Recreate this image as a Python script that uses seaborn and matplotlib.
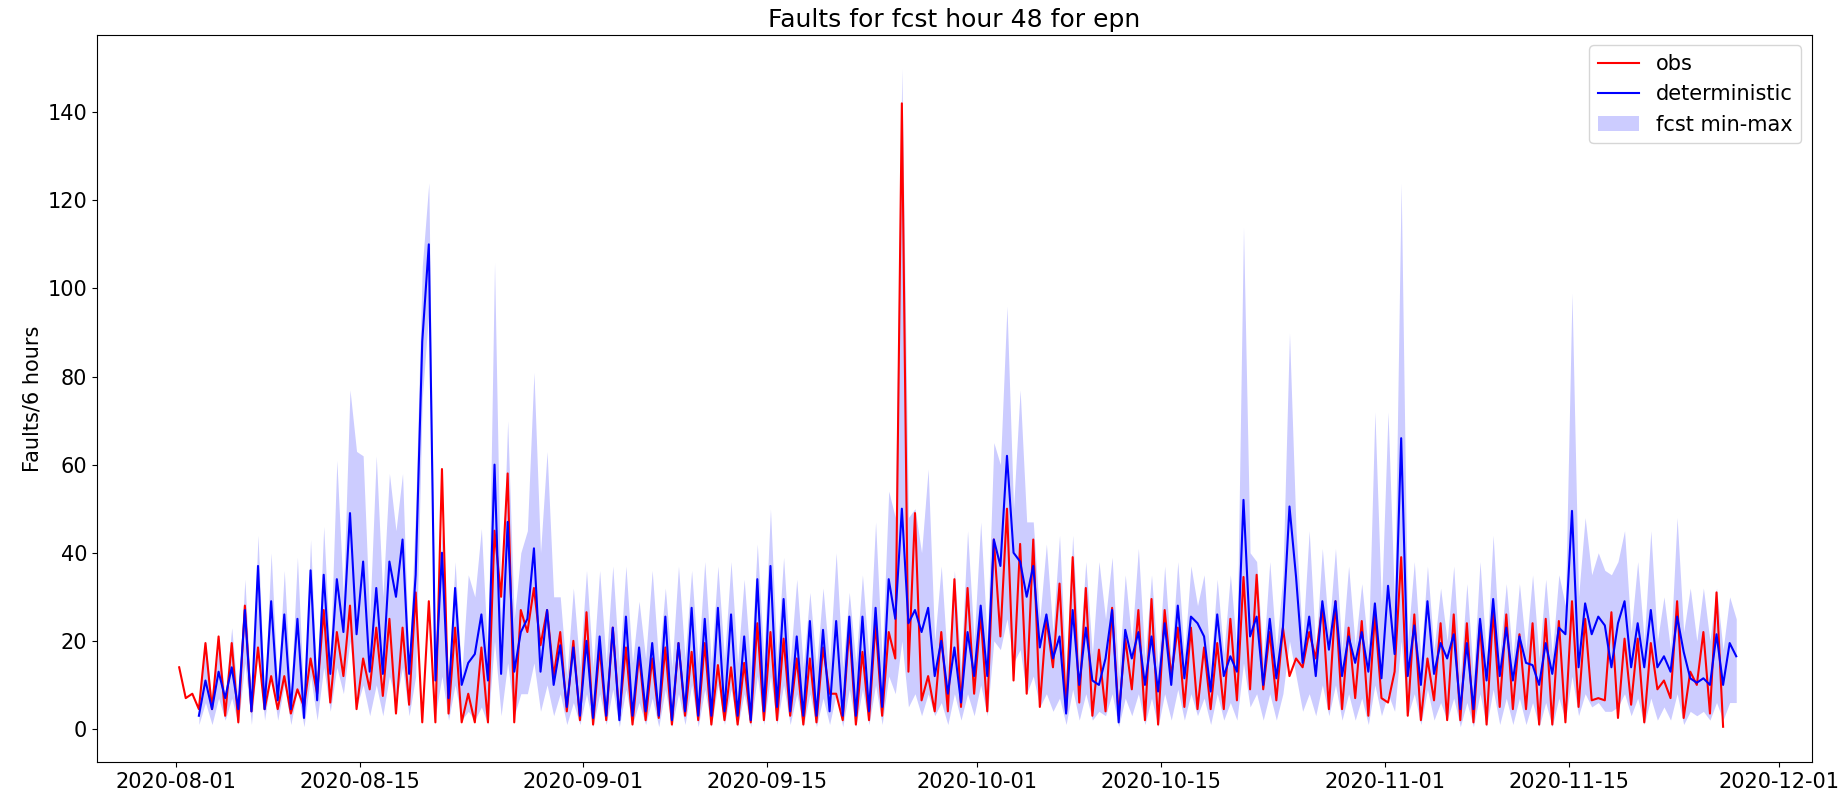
import numpy as np
import pandas as pd
import matplotlib
matplotlib.use("Agg")
import matplotlib.pyplot as plt
import matplotlib.dates as mdates
import seaborn as sns

# -----------------------------
# Data: one value per day for the
# daily peak (06:00) and trough (18:00)
# day 0 = 2020-08-01
# -----------------------------
nan = np.nan

obs_peak = [
    14, 8, 19.5, 21, 19.5, 28, 18.5, 12, 12, 9,
    16, 27, 22, 28, 16, 23, 25, 23, 31, 29,
    59, 23, 8, 18.5, 45, 58, 27, 32, 27, 22,
    20, 26.5, 18.5, 23, 18.5, 17, 16, 18.5, 19.5, 17.5,
    19.5, 14.5, 14, 15, 24, 22, 20.5, 16, 16, 18.5,
    8, 23, 17.5, 24, 22, 142, 49, 12, 22, 34,
    32, 26, 43, 50, 42, 43, 25, 33, 39, 32,
    18, 27.5, 20.5, 27, 29.5, 27, 23, 23, 18.5, 19.5,
    25, 34.5, 35, 22, 23, 16, 22, 28, 29, 23,
    24.5, 26, 6, 39, 26, 16, 24, 26, 24, 24,
    27, 26, 21.5, 24, 25, 24.5, 29, 25, 7, 26.5,
    20.5, 20.5, 19.5, 11, 29, 13, 22, 31, nan,
]
obs_trough = [
    7, 4.5, 4.5, 3, 1.5, 4, 4.5, 4.5, 3.5, 5,
    8, 6, 12, 4.5, 9, 7.5, 3.5, 5.5, 1.5, 1.5,
    3.5, 1.5, 1.5, 1.5, 30, 1.5, 22, 19, 12, 4,
    2, 1, 2, 3, 1, 2, 2.5, 1, 3, 2,
    1, 2, 1, 1.5, 2, 2, 3, 1, 1.5, 8,
    2, 1, 2, 3, 16, 13, 6.5, 4, 4, 5,
    8, 4, 21, 11, 8, 5, 14, 4, 6, 3,
    4, 3, 9, 2, 1, 12, 5, 4.5, 4.5, 4.5,
    6.5, 9, 9, 6.5, 12, 14, 16, 4.5, 4.5, 7,
    3, 7, 13, 3, 2, 6.5, 2, 2, 1.5, 1,
    5, 4.5, 4.5, 1, 1, 1.5, 5, 6.5, 6.5, 2.5,
    5.5, 1.5, 9, 7, 2.5, 10, 3.5, 0.5, nan,
]

det_peak = [
    nan, nan, 11, 13, 14, 27, 37, 29, 26, 25,
    36, 35, 34, 49, 38, 32, 38, 43, 35, 110,
    40, 32, 15, 26, 60, 47, 22, 41, 27, 19,
    18.5, 20, 21, 23, 25.5, 18.5, 19.5, 25.5, 19.5, 27.5,
    25, 27.5, 26, 21, 34, 37, 29.5, 21, 24.5, 22.5,
    24.5, 25.5, 25.5, 27.5, 34, 50, 27, 27.5, 20, 18.5,
    22, 28, 43, 62, 38, 37, 26, 21, 27, 23,
    10, 27, 22.5, 22, 21, 24, 28, 25.5, 21, 26,
    16.5, 52, 25.5, 25, 23, 34.5, 25.5, 29, 29, 21,
    22, 28.5, 32.5, 66, 23.5, 29, 19.5, 21.5, 19.5, 25,
    29.5, 23, 21, 14.5, 19.5, 23, 49.5, 28.5, 25.5, 14,
    29, 24, 27, 16.5, 25.5, 11.5, 11.5, 21.5, 19.5,
]
det_trough = [
    nan, 3, 4.5, 7, 4.5, 4, 4.5, 6.5, 4.5, 2.5,
    6.5, 12.5, 22, 21.5, 13, 12.5, 30, 12.5, 88, 11,
    7, 10, 17, 11, 12.5, 13, 25, 13, 10, 5,
    3, 2.5, 3, 2, 3, 4, 3, 2, 4, 3,
    3, 4, 3, 2, 4, 5, 4, 3, 3, 4,
    3, 3, 4, 5, 25, 24, 22, 12, 8, 6,
    12, 12, 37, 40, 30, 18.5, 16, 3.5, 10, 11,
    16, 1.5, 16, 10, 8.5, 10, 11.5, 24, 8.5, 12,
    13, 21, 10, 11.5, 50.5, 15, 12, 18, 12, 15,
    13, 11.5, 17, 12, 10, 12.5, 16, 4.5, 4.5, 11,
    12, 11, 15, 10, 12.5, 21.5, 14, 21.5, 23.5, 24,
    14, 14, 14, 13, 17.5, 10.5, 10, 10, 16.5,
]

max_peak = [
    nan, nan, 20, 19, 23, 34, 44, 40, 36, 39,
    43, 46, 61, 77, 62, 62, 58, 58, 50, 124,
    45, 38, 35, 45.5, 106, 70, 40, 81, 63, 30,
    32, 36, 36, 37, 37, 29, 36, 32, 37, 36,
    38, 37, 38, 34, 42, 50, 39, 34, 31, 32,
    40, 31, 35, 47, 54, 150, 50, 59, 37, 36,
    45, 47, 65, 96, 77, 47, 42, 44, 44, 38,
    38, 39, 35, 41, 35, 37, 38, 37, 35, 34,
    35, 114, 38, 38, 35, 45, 45, 41, 41, 37,
    33, 72, 72, 124, 38, 37, 32, 37, 33, 38,
    44, 33, 33, 35, 34, 35, 99, 48, 40, 35,
    45, 38, 45, 30, 48, 32, 32, 32, 30,
]
max_trough = [
    nan, 6, 6, 8, 6, 6, 7, 9, 8, 6,
    9, 16, 30, 63, 25, 30, 45, 14, 105, 14,
    10, 12, 30, 16, 25, 25, 45, 40, 30, 12,
    14, 14, 15, 14, 15, 16, 15, 14, 16, 15,
    15, 16, 15, 14, 16, 16, 15, 14, 14, 15,
    14, 15, 16, 16, 48, 48, 40, 20, 14, 14,
    20, 20, 60, 50, 47, 25, 22, 12, 16, 17,
    25, 12, 20, 16, 14, 16, 17, 28, 14, 17,
    18, 40, 16, 18, 90, 20, 18, 22, 18, 19,
    18, 28, 28, 20, 16, 18, 20, 12, 12, 16,
    17, 16, 18, 16, 17, 28, 30, 35, 36, 38,
    22, 20, 20, 18, 22, 20, 20, 18, 25,
]

min_peak = [
    nan, nan, 6, 7, 7, 15, 18, 12, 10, 9,
    12, 14, 14, 20, 10, 10, 12, 14, 12, 95,
    12, 10, 4, 5, 20, 15, 8, 15, 10, 8,
    6, 8, 8, 9, 9, 6, 7, 9, 8, 10,
    9, 10, 9, 8, 12, 12, 10, 8, 8, 7,
    8, 9, 9, 10, 12, 20, 8, 8, 6, 8,
    8, 10, 20, 25, 18, 12, 8, 7, 9, 8,
    4, 8, 7, 8, 7, 8, 9, 8, 7, 8,
    6, 15, 8, 8, 8, 12, 8, 10, 10, 8,
    7, 10, 8, 20, 8, 9, 6, 7, 6, 8,
    9, 7, 7, 6, 6, 7, 12, 8, 6, 4,
    8, 7, 7, 5, 8, 4, 4, 6, 6,
]
min_trough = [
    nan, 1, 1, 2, 1, 1, 2, 2, 1, 0.5,
    2, 4, 8, 5, 3, 3, 6, 3, 75, 3,
    2, 2, 2, 1, 3, 3, 8, 4, 3, 1,
    1, 0.5, 1, 0.5, 1, 1, 0.5, 0.5, 1, 0.5,
    0.5, 1, 0.5, 0.5, 1, 1, 1, 0.5, 0.5, 1,
    0.5, 0.5, 1, 1, 8, 5, 3, 3, 1, 2,
    3, 3, 18, 15, 8, 5, 4, 1, 2, 2,
    3, 0.5, 3, 1, 0.5, 2, 2, 3, 1, 2,
    2, 5, 2, 2, 20, 4, 3, 3, 2, 2,
    1, 3, 4, 3, 1, 2, 2, 0.5, 0.5, 0.5,
    1, 1, 1, 0.5, 0.5, 2, 3, 5, 4, 5,
    3, 1, 2, 2, 1, 3, 2, 2, 6,
]


def interleave(peak, trough):
    return np.column_stack([peak, trough]).ravel()


n_days = len(obs_peak)
times = pd.date_range("2020-08-01 06:00", periods=2 * n_days, freq="12h")

df = pd.DataFrame({
    "time": times,
    "obs": interleave(obs_peak, obs_trough),
    "deterministic": interleave(det_peak, det_trough),
    "fmin": interleave(min_peak, min_trough),
    "fmax": interleave(max_peak, max_trough),
})

# -----------------------------
# Plot
# -----------------------------
fig, ax = plt.subplots(figsize=(18.45, 7.97), dpi=100)
fig.subplots_adjust(left=0.0526, right=0.982, bottom=0.0439, top=0.956)

band = df.dropna(subset=["fmin", "fmax"])
ax.fill_between(
    band["time"], band["fmin"], band["fmax"],
    color="blue", alpha=0.2, linewidth=0, label="fcst min-max"
)

sns.lineplot(data=df, x="time", y="obs", color="red",
             linewidth=1.5, label="obs", ax=ax)
sns.lineplot(data=df, x="time", y="deterministic", color="blue",
             linewidth=1.5, label="deterministic", ax=ax)

handles, labels = ax.get_legend_handles_labels()
order = [labels.index(k) for k in ["obs", "deterministic", "fcst min-max"]]
ax.legend([handles[i] for i in order], [labels[i] for i in order],
          loc="upper right", fontsize=15)

t0 = pd.Timestamp("2020-08-01")
ax.set_xlim(t0 - pd.Timedelta(days=6.0), t0 + pd.Timedelta(days=124.5))
ax.set_ylim(-7.5, 157.5)

ax.xaxis.set_major_locator(mdates.DayLocator(bymonthday=[1, 15]))
ax.xaxis.set_major_formatter(mdates.DateFormatter("%Y-%m-%d"))
ax.tick_params(labelsize=15)

ax.set_title("Faults for fcst hour 48 for epn", fontsize=18)
ax.set_xlabel("")
ax.set_ylabel("Faults/6 hours", fontsize=15)

fig.savefig("out.png", dpi=100)
